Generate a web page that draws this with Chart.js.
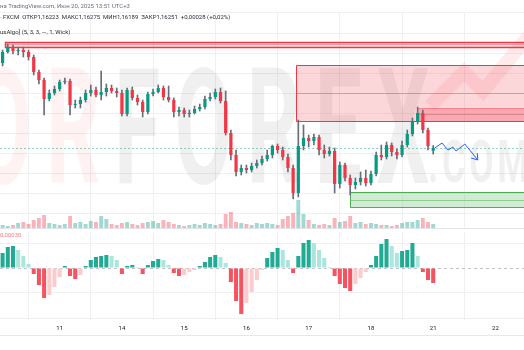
<!DOCTYPE html>
<html>
<head>
<meta charset="utf-8">
<script src="https://cdn.jsdelivr.net/npm/chart.js@4.4.1/dist/chart.umd.min.js"></script>
<style>
html, body { margin: 0; padding: 0; background: #fff; width: 524px; height: 350px; overflow: hidden; }
#wrap { position: relative; width: 524px; height: 350px; font-family: Roboto, "Noto Sans", sans-serif; }
#priceBox { position: absolute; left: 0; top: 0; width: 524px; height: 230px; }
#oscBox { position: absolute; left: 0; top: 230px; width: 524px; height: 110px; }
.t { position: absolute; left: 0; font-size: 6px; line-height: 8px; white-space: nowrap; color: #2a2e39; }
#sep { position: absolute; left: 0; top: 335px; width: 524px; border-top: 1px solid #e6e8ee; }
</style>
</head>
<body>
<div id="wrap">
  <div id="priceBox"><canvas id="price"></canvas></div>
  <div id="oscBox"><canvas id="osc"></canvas></div>
  <div class="t" style="top:2px;color:#6a6d78">на TradingView.com, Июн 20, 2025 13:51 UTC+3</div>
  <div class="t" style="top:13px">· FXCM &nbsp;ОТКР1,16223 &nbsp;МАКС1,16275 &nbsp;МИН1,16189 &nbsp;ЗАКР1,16251 &nbsp;+0,00028 (+0,02%)</div>
  <div class="t" style="top:28px">usAlgo] (5, 3, 3, —, 1, Wick)</div>
  <div class="t" style="top:231px;color:#f77c80">0,00030</div>
  <div id="sep"></div>
</div>
<script>
// time axis: 2h candles, 12 per day
const slots = 101;
const dayIdx = [11, 23, 35, 47, 59, 71, 83, 95];
const days = ['11', '14', '15', '16', '17', '18', '21', '22'];

const opens = [1.1710,1.1721,1.1726,1.1722,1.1723,1.1721,1.1716,1.1701,1.1693,1.1674,1.1680,1.1684,1.1691,1.1692,1.1668,1.1669,1.1673,1.1680,1.1683,1.1678,1.1681,
  1.1685,1.1682,1.1680,1.1659,1.1683,1.1675,1.1671,1.1661,1.1679,1.1681,1.1685,1.1676,1.1673,1.1661,1.1663,1.1659,1.1660,1.1664,1.1666,1.1674,1.1676,
  1.1681,1.1672,1.1640,1.1618,1.1601,1.1605,1.1603,1.1607,1.1610,1.1614,1.1618,1.1627,1.1623,1.1616,1.1605,1.1580,1.1627,1.1635,1.1632,1.1636,1.1623,1.1619,
  1.1622,1.1589,1.1608,1.1595,1.1588,1.1591,1.1595,1.1590,1.1599,1.1618,1.1616,1.1628,1.1621,1.1618,1.1628,1.1639,1.1651,1.1660,1.1643,1.16223];
const highs = [1.1723,1.1729,1.1728,1.1726,1.1726,1.1723,1.1718,1.1703,1.1695,1.1683,1.1687,1.1693,1.1695,1.1694,1.1673,1.1676,1.1683,1.1688,1.1686,1.1702,1.1689,
  1.1688,1.1685,1.1683,1.1685,1.1686,1.1678,1.1673,1.1681,1.1684,1.1688,1.1687,1.1687,1.1675,1.1666,1.1665,1.1663,1.1667,1.1669,1.1677,1.1680,1.1684,
  1.1685,1.1682,1.1643,1.1623,1.1608,1.1608,1.1610,1.1613,1.1617,1.1623,1.1628,1.1629,1.1626,1.1619,1.1608,1.1653,1.1648,1.1638,1.1639,1.1638,1.1628,1.1626,
  1.1625,1.1611,1.1610,1.1598,1.1595,1.1601,1.1603,1.1602,1.1621,1.1628,1.1631,1.1630,1.1624,1.1632,1.1643,1.1655,1.1666,1.1663,1.1645,1.16275];
const lows = [1.1707,1.1720,1.1719,1.1718,1.1716,1.1713,1.1698,1.1689,1.1658,1.1672,1.1678,1.1682,1.1689,1.1658,1.1665,1.1665,1.1671,1.1677,1.1676,1.1673,1.1677,
  1.1680,1.1676,1.1657,1.1657,1.1673,1.1668,1.1656,1.1659,1.1677,1.1680,1.1673,1.1671,1.1656,1.1657,1.1656,1.1656,1.1659,1.1662,1.1664,1.1672,1.1674,
  1.1670,1.1638,1.1613,1.1597,1.1598,1.1600,1.1601,1.1605,1.1608,1.1612,1.1615,1.1620,1.1613,1.1601,1.1574,1.1576,1.1623,1.1626,1.1628,1.1618,1.1615,1.1617,
  1.1580,1.1585,1.1592,1.1578,1.1584,1.1588,1.1587,1.1588,1.1597,1.1613,1.1614,1.1617,1.1614,1.1616,1.1626,1.1637,1.1649,1.1640,1.1623,1.16189];
const closes = [1.1721,1.1726,1.1722,1.1723,1.1721,1.1716,1.1701,1.1693,1.1674,1.1680,1.1684,1.1691,1.1692,1.1668,1.1669,1.1673,1.1680,1.1683,1.1678,1.1681,1.1685,
  1.1682,1.1680,1.1659,1.1683,1.1675,1.1671,1.1661,1.1679,1.1681,1.1685,1.1676,1.1673,1.1661,1.1663,1.1659,1.1660,1.1664,1.1666,1.1674,1.1676,1.1681,
  1.1672,1.1640,1.1618,1.1601,1.1605,1.1603,1.1607,1.1610,1.1614,1.1618,1.1627,1.1623,1.1616,1.1605,1.1580,1.1627,1.1635,1.1632,1.1636,1.1623,1.1619,1.1622,
  1.1589,1.1608,1.1595,1.1588,1.1591,1.1595,1.1590,1.1599,1.1618,1.1616,1.1628,1.1621,1.1618,1.1628,1.1639,1.1651,1.1660,1.1643,1.1627,1.16251];
const volumes = [300,200,300,500,600,400,800,1000,1300,500,400,300,400,1200,500,600,400,700,600,1200,900,
  400,300,500,600,400,300,500,600,700,500,800,600,400,300,200,300,400,300,500,400,300,400,1400,1600,
  600,500,400,300,500,400,500,400,300,900,1200,1500,2800,1400,800,400,300,400,300,1000,600,700,1200,
  500,600,400,500,400,300,300,200,300,500,600,600,800,1000,600,400];
// oscillator histogram, in units of 0.00001
const osc = [15,21,22,18,12,4,-6,-17,-30,-27,-19,-9,2,-8,-11,-7,2,8,11,12,13,12,8,-6,2,3,1,-6,3,7,9,8,3,-5,-8,-7,-4,-2,2,6,11,13,11,5,
  -14,-33,-46,-35,-24,-12,-2,10,16,20,18,8,-5,12,25,28,25,18,10,1,-8,-16,-20,-23,-16,-10,-4,3,12,24,29,22,15,17,18,25,12,-4,-12,-15];

const priceGrid = [1.156, 1.158, 1.160, 1.162, 1.164, 1.166, 1.168, 1.170, 1.172, 1.174, 1.176];
const oscGrid = [-50, -25, 0, 25];

// zones: start candle, top, bottom, middle line
const zoneFrom = [0.5, 56.5, 80, 67];
const zoneTop = [1.1731, 1.1708, 1.1665, 1.1581];
const zoneBottom = [1.1726, 1.1652, 1.1652, 1.1566];
const zoneMid = [1.17285, 1.1680, 1.1659, 1.1573];
const zoneKind = ['supply', 'supply', 'supply2', 'demand'];

// projected path
const fcX = [83.3, 84.7, 85.85, 86.8, 87.4, 89.1, 91.6];
const fcY = [1.1625, 1.1630, 1.1623, 1.1626, 1.1622, 1.1629, 1.1613];

const UP = '#089981', DOWN = '#f23645';
const GRID = '#eef0f4';

function dayTicks(scale) {
  scale.ticks = dayIdx.map(v => ({ value: v }));
}

const bgPlugin = {
  id: 'bg',
  beforeDatasetsDraw(chart) {
    const { ctx, chartArea: a, scales: { x, y } } = chart;
    ctx.save();
    ctx.beginPath(); ctx.rect(a.left, a.top, a.width, a.height); ctx.clip();
    // watermark
    ctx.strokeStyle = 'rgba(242,54,69,0.10)';
    ctx.lineWidth = 14;
    ctx.beginPath(); ctx.moveTo(430, 106); ctx.lineTo(464, 72); ctx.lineTo(483, 91); ctx.lineTo(532, 32); ctx.stroke();
    ctx.font = '700 162px Roboto';
    ctx.letterSpacing = '28px';
    const wOR = ctx.measureText('OR').width;
    const wAll = ctx.measureText('ORFOREX').width;
    ctx.save(); ctx.translate(-26, 183); ctx.scale(470 / wAll, 1);
    ctx.fillStyle = 'rgba(242,54,69,0.065)'; ctx.fillText('OR', 0, 0);
    ctx.fillStyle = 'rgba(0,0,0,0.058)'; ctx.fillText('FOREX', wOR, 0);
    ctx.restore();
    ctx.font = '700 60px Roboto';
    ctx.letterSpacing = '6px';
    const wc = ctx.measureText('.COM').width;
    ctx.save(); ctx.translate(428, 182); ctx.scale(104 / wc, 1);
    ctx.fillStyle = 'rgba(0,0,0,0.058)'; ctx.fillText('.COM', 0, 0);
    ctx.restore();
    ctx.letterSpacing = '0px';

    // zones
    zoneFrom.forEach((f, k) => {
      const x0 = Math.round(x.getPixelForValue(f)) + 0.5;
      const y0 = Math.round(y.getPixelForValue(zoneTop[k])) + 0.5;
      const y1 = Math.round(y.getPixelForValue(zoneBottom[k])) + 0.5;
      const ym = Math.round(y.getPixelForValue(zoneMid[k])) + 0.5;
      const kind = zoneKind[k];
      const fill = kind === 'demand' ? 'rgba(76,175,80,0.25)' : kind === 'supply2' ? 'rgba(242,54,69,0.28)' : 'rgba(242,54,69,0.2)';
      const line = kind === 'demand' ? '#4caf50' : '#f23645';
      ctx.fillStyle = fill;
      ctx.fillRect(x0, y0, a.right - x0, y1 - y0);
      ctx.strokeStyle = kind === 'supply2' ? 'rgba(242,54,69,0.45)' : line;
      ctx.lineWidth = kind === 'supply2' ? 1 : (k === 0 ? 1.5 : 1);
      ctx.beginPath();
      ctx.moveTo(a.right, y0); ctx.lineTo(x0, y0);
      if (kind !== 'supply2') ctx.lineTo(x0, y1);
      else ctx.moveTo(x0, y1);
      ctx.lineTo(a.right, y1);
      ctx.stroke();
      ctx.strokeStyle = kind === 'demand' ? 'rgba(76,175,80,0.5)' : 'rgba(160,70,75,0.35)';
      ctx.lineWidth = 1;
      ctx.beginPath(); ctx.moveTo(x0, ym); ctx.lineTo(a.right, ym); ctx.stroke();
    });

    // last price line
    const yp = Math.round(y.getPixelForValue(closes[closes.length - 1])) + 0.5;
    ctx.strokeStyle = 'rgba(8,153,129,0.45)';
    ctx.setLineDash([2, 2]);
    ctx.beginPath(); ctx.moveTo(a.left, yp); ctx.lineTo(a.right, yp); ctx.stroke();
    ctx.restore();
  },
  afterDatasetsDraw(chart) {
    const { ctx, scales: { x, y } } = chart;
    const pts = fcX.map((v, i) => [x.getPixelForValue(v), y.getPixelForValue(fcY[i])]);
    ctx.save();
    ctx.strokeStyle = '#2962ff';
    ctx.lineWidth = 1;
    ctx.beginPath();
    pts.forEach((p, i) => i ? ctx.lineTo(p[0], p[1]) : ctx.moveTo(p[0], p[1]));
    ctx.stroke();
    const [tx, ty] = pts[pts.length - 1], [px, py] = pts[pts.length - 2];
    const ang = Math.atan2(ty - py, tx - px);
    ctx.beginPath();
    ctx.moveTo(tx - 7 * Math.cos(ang - 0.6), ty - 7 * Math.sin(ang - 0.6));
    ctx.lineTo(tx, ty);
    ctx.lineTo(tx - 7 * Math.cos(ang + 0.6), ty - 7 * Math.sin(ang + 0.6));
    ctx.stroke();
    ctx.restore();
  }
};

new Chart(document.getElementById('price'), {
  type: 'bar',
  data: {
    datasets: [
      {
        data: opens.map((o, i) => ({ x: i, y: [o, closes[i]] })),
        backgroundColor: opens.map((o, i) => closes[i] >= o ? UP : DOWN),
        barPercentage: 0.62, categoryPercentage: 1, grouped: false, order: 0, yAxisID: 'y'
      },
      {
        data: opens.map((o, i) => ({ x: i, y: [lows[i], highs[i]] })),
        backgroundColor: '#6a6d78',
        barThickness: 1, grouped: false, order: 1, yAxisID: 'y'
      },
      {
        data: volumes.map((v, i) => ({ x: i, y: v })),
        backgroundColor: opens.map((o, i) => closes[i] >= o ? 'rgba(8,153,129,0.38)' : 'rgba(242,54,69,0.38)'),
        barPercentage: 0.75, categoryPercentage: 1, grouped: false, order: 2, yAxisID: 'v'
      }
    ]
  },
  options: {
    animation: false, responsive: true, maintainAspectRatio: false, devicePixelRatio: 1,
    layout: { padding: { top: 12, bottom: 2, left: 0, right: 0 } },
    plugins: { legend: { display: false }, tooltip: { enabled: false } },
    scales: {
      x: {
        type: 'linear', min: -0.5, max: slots - 0.5, offset: false,
        afterBuildTicks: dayTicks, afterFit: s => { s.height = 0; },
        ticks: { display: false },
        grid: { color: GRID, drawTicks: false },
        border: { display: true, color: '#e0e3eb' }
      },
      y: {
        min: 1.1545, max: 1.1761,
        afterBuildTicks: s => { s.ticks = priceGrid.map(v => ({ value: v })); },
        afterFit: s => { s.width = 0; },
        ticks: { display: false },
        grid: { color: GRID, drawTicks: false },
        border: { display: false }
      },
      v: { display: false, min: 0, max: 21600 }
    }
  },
  plugins: [bgPlugin]
});

const oscPlugin = {
  id: 'zero',
  beforeDatasetsDraw(chart) {
    const { ctx, chartArea: a, scales: { y } } = chart;
    const y0 = Math.round(y.getPixelForValue(0)) + 0.5;
    ctx.save();
    ctx.strokeStyle = 'rgba(120,123,134,0.45)';
    ctx.setLineDash([3, 3]);
    ctx.beginPath(); ctx.moveTo(a.left, y0); ctx.lineTo(a.right, y0); ctx.stroke();
    ctx.restore();
  }
};

new Chart(document.getElementById('osc'), {
  type: 'bar',
  data: {
    datasets: [{
      data: osc.map((v, i) => ({ x: i, y: v })),
      backgroundColor: osc.map((v, i) => {
        const prev = i ? osc[i - 1] : v;
        if (v >= 0) return v >= prev ? '#22ab94' : '#ace5dc';
        return v <= prev ? '#f7525f' : '#fccbcd';
      }),
      barPercentage: 0.78, categoryPercentage: 1
    }]
  },
  options: {
    animation: false, responsive: true, maintainAspectRatio: false, devicePixelRatio: 1,
    layout: { padding: { top: 2, bottom: 0, left: 0, right: 0 } },
    plugins: { legend: { display: false }, tooltip: { enabled: false } },
    scales: {
      x: {
        type: 'linear', min: -0.5, max: slots - 0.5, offset: false,
        afterBuildTicks: dayTicks, afterFit: s => { s.height = 20; },
        ticks: {
          autoSkip: false, maxRotation: 0, padding: 5, color: '#131722',
          font: { family: 'Roboto', size: 6 },
          callback: v => days[dayIdx.indexOf(v)]
        },
        grid: { color: GRID, drawTicks: false },
        border: { display: false }
      },
      y: {
        min: -52, max: 36,
        afterBuildTicks: s => { s.ticks = oscGrid.map(v => ({ value: v })); },
        afterFit: s => { s.width = 0; },
        ticks: { display: false },
        grid: { color: c => c.tick && c.tick.value === 0 ? 'transparent' : GRID, drawTicks: false },
        border: { display: false }
      }
    }
  },
  plugins: [oscPlugin]
});
</script>
</body>
</html>
